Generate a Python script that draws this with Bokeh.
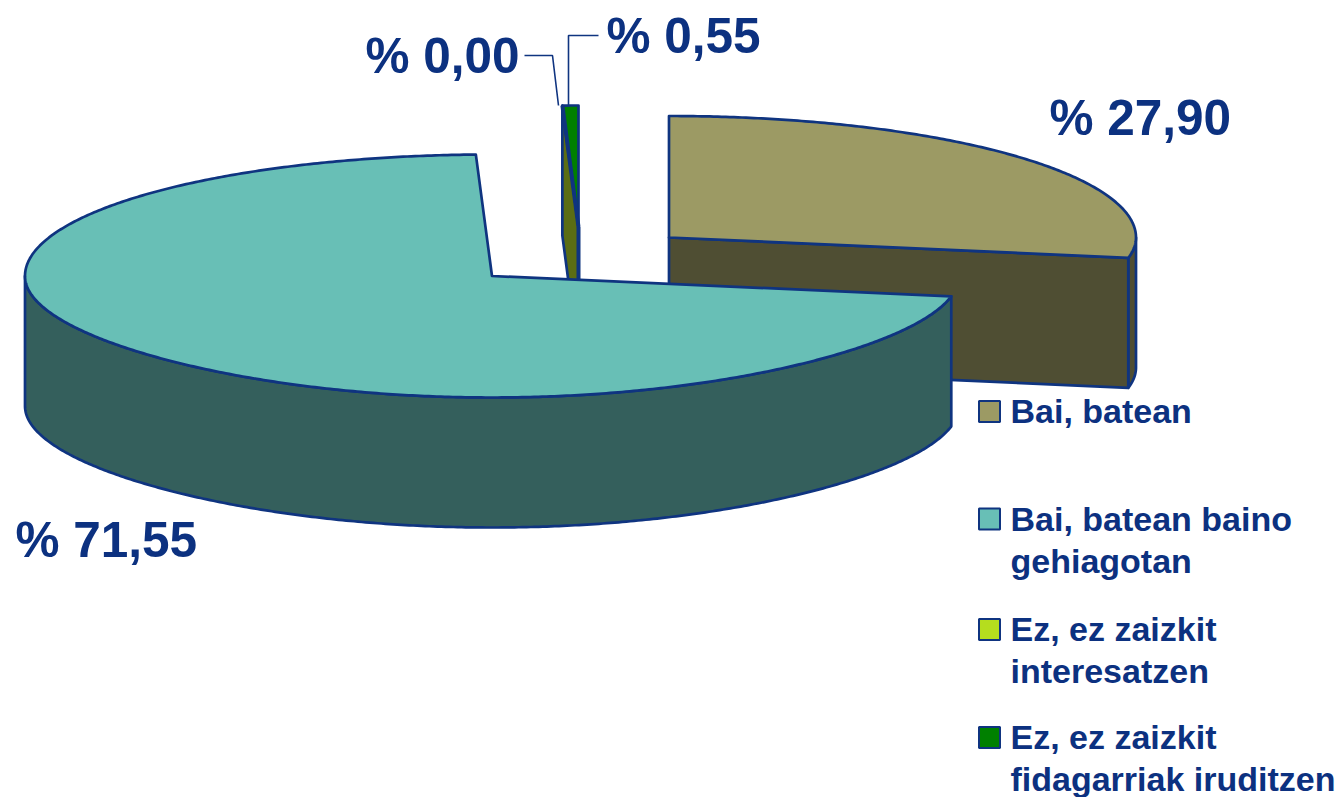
import numpy as np
from bokeh.plotting import figure
from bokeh.models import Range1d
from bokeh.core.properties import value
from bokeh.embed import file_html
from bokeh.resources import INLINE

# ---- data ----
categories = ["Bai, batean", "Bai, batean baino gehiagotan",
              "Ez, ez zaizkit interesatzen", "Ez, ez zaizkit fidagarriak iruditzen"]
shares = [27.90, 71.55, 0.00, 0.55]
value_labels = ["% 27,90", "% 71,55", "% 0,00", "% 0,55"]
legend_lines = [["Bai, batean"], ["Bai, batean baino", "gehiagotan"],
                ["Ez, ez zaizkit", "interesatzen"], ["Ez, ez zaizkit", "fidagarriak iruditzen"]]

# ---- style / layout (picture pixel coordinates) ----
top_colors = ["#9c9a64", "#68bfb6", "#b5dd1e", "#008000"]
side_colors = ["#4f4e33", "#345f5c", "#5b6d14", "#004000"]
NAVY = "#0f3480"
TEXT = "#0c3180"
RX, RY, DEPTH = 467.0, 121.5, 130.0
FRONT_FLATTEN = 9.5
apex = [(668.5, 237.0), (491.5, 275.5), (578.0, 226.5), (578.0, 226.5)]
label_pos = [(1049, 137), (15, 559), (365, 75), (606, 55)]
legend_box_y = [411, 518.5, 629, 737]
legend_base = [[424], [532, 574], [642.5, 684.5], [750, 792]]
LABEL_SIZE, LEGEND_SIZE = 49.5, 34
BASE_SHIFT = 0.4  # em: the text glyph sits this much under the given y

W, H = 1343, 797
p = figure(width=W, height=H, output_backend="svg", toolbar_location=None,
           x_range=Range1d(0, W), y_range=Range1d(H, 0),
           min_border=0, background_fill_color="white", border_fill_color="white")
p.axis.visible = False
p.grid.visible = False
p.outline_line_color = None

cum = np.concatenate([[0], np.cumsum(shares)])
ang = cum / cum[-1] * 360.0


def arc(c, a0, a1):
    t = np.radians(np.linspace(a0, a1, max(2, int(abs(a1 - a0) * 2) + 2)))
    front = np.clip(-np.cos(t), 0, 1)
    return c[0] + RX * np.sin(t), c[1] - RY * np.cos(t) - FRONT_FLATTEN * front * (1 - front ** 2)


def patch(xs, ys, color, lw=2.7):
    p.patch(list(xs), list(ys), fill_color=color, line_color=NAVY, line_width=lw, line_join="round")


def side(c, a0, a1, color):
    x, y = arc(c, a0, a1)
    patch(np.r_[x, x[::-1]], np.r_[y, y[::-1] + DEPTH], color)


def top(c, a0, a1, color):
    x, y = arc(c, a0, a1)
    patch(np.r_[c[0], x], np.r_[c[1], y], color)


def cut(c, a, color):
    x, y = arc(c, a, a)
    patch([c[0], x[0], x[0], c[0]], [c[1], y[0], y[0] + DEPTH, c[1] + DEPTH], color)


# slice 0: tan, back right
c = apex[0]
side(c, 90, ang[1], side_colors[0])
cut(c, ang[1], side_colors[0])
top(c, ang[0], ang[1], top_colors[0])

# slices 2 and 3: the thin lime and green ones
c = apex[3]
cut(c, ang[3], side_colors[2])
top(c, ang[3], ang[4], top_colors[3])
x, y = arc(c, ang[2], ang[3])
p.line([x[0], c[0]], [y[0], c[1]], line_color=NAVY, line_width=4)
p.line([c[0], c[0]], [c[1], c[1] + DEPTH], line_color=NAVY, line_width=4)

# slice 1: teal, in front
c = apex[1]
side(c, ang[1], 270, side_colors[1])
top(c, ang[1], ang[2], top_colors[1])

# leader lines
p.line([524, 552, 558], [55, 55, 105], line_color=NAVY, line_width=1.6)
p.line([598, 568, 568], [35, 35, 105], line_color=NAVY, line_width=1.6)

# value labels
p.text([q[0] for q in label_pos], [q[1] - BASE_SHIFT * LABEL_SIZE for q in label_pos], text=value_labels,
       text_font=value("Liberation Sans"), text_font_style="bold", text_font_size=f"{LABEL_SIZE}px",
       text_color=TEXT, text_baseline="alphabetic", text_align="left")

# legend
p.rect([989] * 4, legend_box_y, width=21, height=21, fill_color=top_colors,
       line_color=NAVY, line_width=2)
lx, ly, lt = [], [], []
for lines, bases in zip(legend_lines, legend_base):
    for s, b in zip(lines, bases):
        lx.append(1010); ly.append(b - BASE_SHIFT * LEGEND_SIZE); lt.append(s)
p.text(lx, ly, text=lt, text_font=value("Liberation Sans"), text_font_style="bold",
       text_font_size=f"{LEGEND_SIZE}px", text_color=TEXT, text_baseline="alphabetic", text_align="left")

open("out.html", "w").write(file_html(p, INLINE))
